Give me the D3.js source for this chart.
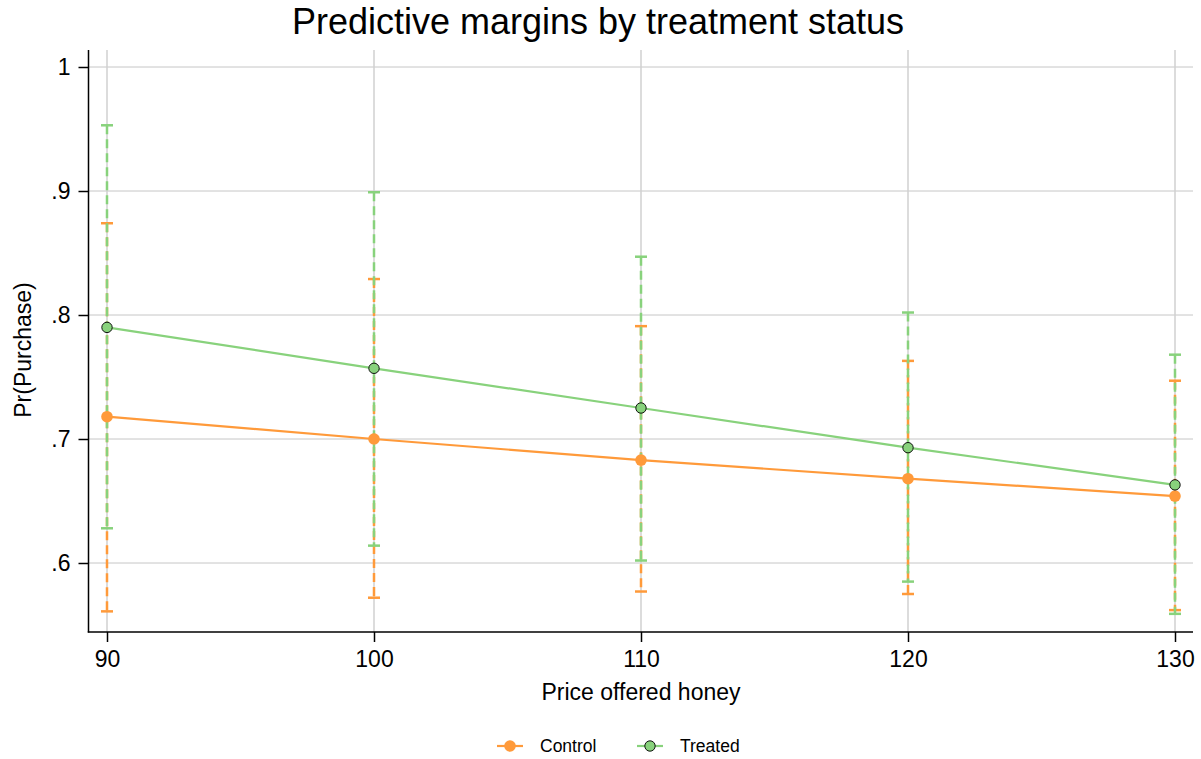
<!DOCTYPE html>
<html><head><meta charset="utf-8">
<script src="https://cdn.jsdelivr.net/npm/d3@7/dist/d3.min.js"></script>
<style>body{margin:0;background:#fff}svg{display:block}text{font-family:"Liberation Sans",Arial,Helvetica,sans-serif}</style>
</head><body>
<script>
const prices = [90, 100, 110, 120, 130];
const controlMargin = [0.718, 0.700, 0.683, 0.668, 0.654];
const controlLower = [0.561, 0.572, 0.577, 0.575, 0.562];
const controlUpper = [0.874, 0.829, 0.791, 0.763, 0.747];
const treatedMargin = [0.790, 0.757, 0.725, 0.693, 0.663];
const treatedLower = [0.628, 0.614, 0.602, 0.585, 0.559];
const treatedUpper = [0.953, 0.899, 0.847, 0.802, 0.768];
const yTicks = [0.6, 0.7, 0.8, 0.9, 1];
const yTickLabels = [".6", ".7", ".8", ".9", "1"];
const xTicks = [90, 100, 110, 120, 130];
const seriesNames = ["Control", "Treated"];
const colors = {Control: "#ff9a3a", Treated: "#88d27c"};

const W = 1201, H = 759;
const svg = d3.select("body").append("svg").attr("width", W).attr("height", H);
const L = 88.5, R = 1193, T = 50, B = 632;
const x = d3.scaleLinear().domain([90, 130]).range([107, 1175]);
const y = d3.scaleLinear().domain([0.6, 1]).range([563, 67]);

const g = svg.append("g");
// grid
g.selectAll(".hg").data(yTicks).join("line")
  .attr("x1", L).attr("x2", R).attr("y1", d => y(d)).attr("y2", d => y(d))
  .attr("stroke", "#c6c6c6").attr("stroke-width", 1);
g.selectAll(".vg").data(xTicks).join("line")
  .attr("y1", T).attr("y2", B).attr("x1", d => x(d)).attr("x2", d => x(d))
  .attr("stroke", "#d0d0d0").attr("stroke-width", 1.5);

// axes
const yAxis = d3.axisLeft(y).tickValues(yTicks).tickFormat((d, i) => yTickLabels[i]).tickSize(10).tickPadding(8);
const ya = svg.append("g").attr("transform", `translate(${L},0)`).call(yAxis);
ya.select(".domain").remove();
ya.append("line").attr("x1", 0).attr("x2", 0).attr("y1", T).attr("y2", B + 0.5).attr("stroke", "#000").attr("stroke-width", 1.5);
ya.selectAll(".tick line").attr("stroke", "#000").attr("stroke-width", 1.5);
ya.selectAll(".tick text").attr("font-size", 23).attr("fill", "#000");

const xAxis = d3.axisBottom(x).tickValues(xTicks).tickSize(10).tickPadding(9);
const xa = svg.append("g").attr("transform", `translate(0,${B})`).call(xAxis);
xa.select(".domain").remove();
xa.append("line").attr("x1", L - 0.75).attr("x2", R).attr("y1", 0).attr("y2", 0).attr("stroke", "#000").attr("stroke-width", 1.5);
xa.selectAll(".tick line").attr("stroke", "#000").attr("stroke-width", 1.5);
xa.selectAll(".tick text").attr("font-size", 23).attr("fill", "#000");

// CI bars
function ci(lower, upper, color) {
  const gg = svg.append("g");
  prices.forEach((p, i) => {
    gg.append("line").attr("x1", x(p)).attr("x2", x(p)).attr("y1", y(upper[i])).attr("y2", y(lower[i]))
      .attr("stroke", color).attr("stroke-width", 2.5).attr("stroke-dasharray", "9,5");
    [upper[i], lower[i]].forEach(v => {
      gg.append("line").attr("x1", x(p) - 6).attr("x2", x(p) + 6).attr("y1", y(v)).attr("y2", y(v))
        .attr("stroke", color).attr("stroke-width", 2.5);
    });
  });
}
ci(controlLower, controlUpper, colors.Control);
ci(treatedLower, treatedUpper, colors.Treated);

// lines
const line = d3.line().x((d, i) => x(prices[i])).y(d => y(d));
svg.append("path").datum(controlMargin).attr("d", line).attr("fill", "none").attr("stroke", colors.Control).attr("stroke-width", 2.2);
svg.append("path").datum(treatedMargin).attr("d", line).attr("fill", "none").attr("stroke", colors.Treated).attr("stroke-width", 2.2);

svg.selectAll(".cm").data(controlMargin).join("circle")
  .attr("cx", (d, i) => x(prices[i])).attr("cy", d => y(d)).attr("r", 5.8).attr("fill", colors.Control);
svg.selectAll(".tm").data(treatedMargin).join("circle")
  .attr("cx", (d, i) => x(prices[i])).attr("cy", d => y(d)).attr("r", 5.2).attr("fill", colors.Treated)
  .attr("stroke", "#000").attr("stroke-width", 0.9);

// titles
svg.append("text").attr("x", 598).attr("y", 34).attr("text-anchor", "middle").attr("font-size", 36).text("Predictive margins by treatment status");
svg.append("text").attr("transform", "translate(31,350) rotate(-90)").attr("text-anchor", "middle").attr("font-size", 23).text("Pr(Purchase)");
svg.append("text").attr("x", 641).attr("y", 700).attr("text-anchor", "middle").attr("font-size", 23).text("Price offered honey");

// legend
const leg = [{name: seriesNames[0], cx: 510, tx: 540}, {name: seriesNames[1], cx: 650, tx: 680}];
leg.forEach(l => {
  svg.append("line").attr("x1", l.cx - 13).attr("x2", l.cx + 13).attr("y1", 746).attr("y2", 746).attr("stroke", colors[l.name]).attr("stroke-width", 2.2);
  const c = svg.append("circle").attr("cx", l.cx).attr("cy", 746).attr("fill", colors[l.name]);
  if (l.name === "Treated") c.attr("r", 5.2).attr("stroke", "#000").attr("stroke-width", 0.9); else c.attr("r", 5.8);
  svg.append("text").attr("x", l.tx).attr("y", 752).attr("font-size", 17.5).text(l.name);
});
</script>
</body></html>
